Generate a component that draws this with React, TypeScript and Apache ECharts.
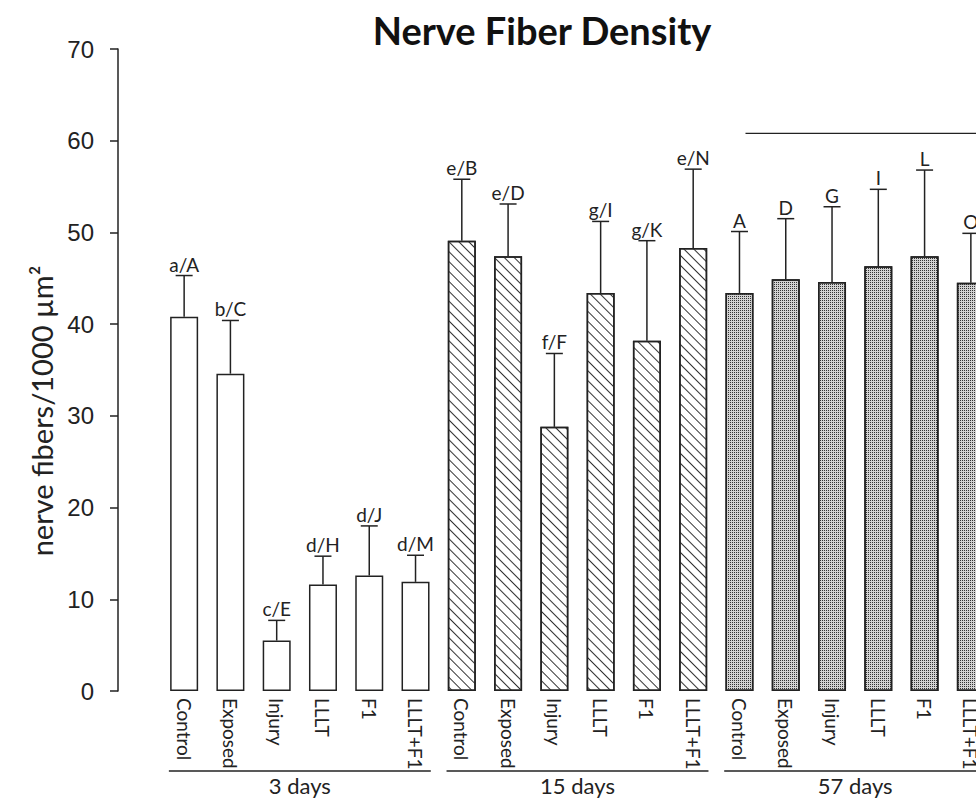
import React, { useEffect, useRef } from "react";
import * as echarts from "echarts";

const treatments = ["Control", "Exposed", "Injury", "LLLT", "F1", "LLLT+F1"];
const groupNames = ["3 days", "15 days", "57 days"];
const categories = [...treatments, ...treatments, ...treatments];

const means3 = [40.8, 34.6, 5.5, 11.6, 12.6, 11.9];
const errs3 = [4.5, 5.8, 2.2, 3.1, 5.4, 2.9];
const letters3 = ["a/A", "b/C", "c/E", "d/H", "d/J", "d/M"];

const means15 = [49.1, 47.4, 28.8, 43.4, 38.2, 48.3];
const errs15 = [6.7, 5.7, 8.0, 7.8, 10.9, 8.6];
const letters15 = ["e/B", "e/D", "f/F", "g/I", "g/K", "e/N"];

const means57 = [43.4, 44.9, 44.6, 46.3, 47.4, 44.5];
const errs57 = [6.7, 6.6, 8.2, 8.4, 9.4, 5.4];
const letters57 = ["A", "D", "G", "I", "L", "O"];

const yMin = 0;
const yMax = 70;
const yInterval = 10;
const bracketValue = 60.8;

const ink = "#222";
const textFont = "Lato, 'Open Sans', sans-serif";

export default function App() {
  const ref = useRef<HTMLDivElement>(null);

  useEffect(() => {
    document.body.style.margin = "0";
    const chart = echarts.init(ref.current!, null, { renderer: "svg" });
    const means = [...means3, ...means15, ...means57];
    const errs = [...errs3, ...errs15, ...errs57];
    const letters = [...letters3, ...letters15, ...letters57];

    const groupData = (g: number) =>
      means.map((v, i) => (Math.floor(i / 6) === g ? v : "-"));

    const baseItem = { borderColor: ink, borderWidth: 1.5 };

    chart.setOption({
      animation: false,
      grid: { left: 161, width: 833, top: 49, bottom: 110, outerBoundsMode: "none", containLabel: false },
      xAxis: {
        type: "category",
        data: categories,
        axisLine: { show: false },
        axisTick: { show: false },
        axisLabel: {
          rotate: -90,
          margin: 7,
          interval: 0,
          fontFamily: textFont,
          fontSize: 19,
          color: ink,
        },
      },
      yAxis: {
        type: "value",
        min: yMin,
        max: yMax,
        interval: yInterval,
        offset: 43,
        axisLine: { show: true, lineStyle: { color: ink, width: 1.5 } },
        axisTick: { show: true, inside: false, length: 8, lineStyle: { color: ink, width: 1.5 } },
        splitLine: { show: false },
        axisLabel: {
          margin: 24,
          fontFamily: "'Liberation Sans', Arial, sans-serif",
          fontSize: 24,
          color: ink,
        },
      },
      series: [
        {
          type: "bar",
          data: groupData(0),
          barWidth: 28,
          barGap: "-100%",
          itemStyle: { ...baseItem, color: "#fff" },
        },
        {
          type: "bar",
          data: groupData(1),
          barWidth: 28,
          barGap: "-100%",
          itemStyle: {
            ...baseItem,
            color: "#fff",
            decal: {
              symbol: "rect",
              symbolSize: 1,
              color: "#333",
              dashArrayX: [1, 0],
              dashArrayY: [1, 6],
              rotation: Math.PI / 4,
            },
          },
        },
        {
          type: "bar",
          data: groupData(2),
          barWidth: 28,
          barGap: "-100%",
          itemStyle: {
            ...baseItem,
            color: "#d2d2d2",
            decal: {
              symbol: "rect",
              symbolSize: 1,
              color: "#333",
              dashArrayX: [1, 1],
              dashArrayY: [1, 1],
              rotation: 0,
            },
          },
        },
        {
          type: "custom",
          z: 5,
          data: means.map((m, i) => [i, m, m + errs[i]]),
          renderItem: (params: any, api: any) => {
            const i = api.value(0);
            const base = api.coord([i, api.value(1)]);
            const top = api.coord([i, api.value(2)]);
            const ls = { stroke: ink, lineWidth: 1.5 };
            return {
              type: "group",
              children: [
                { type: "line", shape: { x1: base[0], y1: base[1], x2: top[0], y2: top[1] }, style: ls },
                { type: "line", shape: { x1: top[0] - 8.5, y1: top[1], x2: top[0] + 8.5, y2: top[1] }, style: ls },
                {
                  type: "text",
                  x: top[0],
                  y: top[1] - 2,
                  style: {
                    text: letters[params.dataIndex],
                    textAlign: "center",
                    textVerticalAlign: "bottom",
                    fontFamily: textFont,
                    fontSize: 19,
                    fill: ink,
                  },
                },
              ],
            };
          },
        },
      ],
    });

    const px = (i: number) => chart.convertToPixel({ xAxisIndex: 0 }, i) as number;
    const band = px(1) - px(0);
    const graphics: any[] = [];
    groupNames.forEach((name, g) => {
      const x1 = px(g * 6) - 0.33 * band;
      const x2 = px(g * 6 + 5) + 0.33 * band;
      graphics.push({
        type: "line",
        shape: { x1, y1: 771, x2, y2: 771 },
        style: { stroke: ink, lineWidth: 1.5 },
      });
      graphics.push({
        type: "text",
        x: (px(g * 6) + px(g * 6 + 5)) / 2,
        y: 774,
        style: {
          text: name,
          textAlign: "center",
          textVerticalAlign: "top",
          fontFamily: textFont,
          fontSize: 22,
          fill: ink,
        },
      });
    });
    const yb = chart.convertToPixel({ yAxisIndex: 0 }, bracketValue) as number;
    graphics.push({
      type: "line",
      shape: { x1: px(12) + 0.13 * band, y1: yb, x2: px(17) + 0.6 * band, y2: yb },
      style: { stroke: ink, lineWidth: 1.2 },
    });
    graphics.push({
      type: "text",
      x: 542,
      y: 30,
      style: {
        text: "Nerve Fiber Density",
        textAlign: "center",
        textVerticalAlign: "middle",
        fontFamily: textFont,
        fontWeight: "bold",
        fontSize: 38,
        fill: "#111",
      },
    });
    graphics.push({
      type: "text",
      x: 41,
      y: 411,
      rotation: Math.PI / 2,
      style: {
        text: "nerve fibers/1000 µm²",
        textAlign: "center",
        textVerticalAlign: "middle",
        fontFamily: textFont,
        fontSize: 29,
        fill: ink,
      },
    });
    chart.setOption({ graphic: graphics });

    return () => chart.dispose();
  }, []);

  return <div ref={ref} style={{ width: 976, height: 801 }} />;
}
